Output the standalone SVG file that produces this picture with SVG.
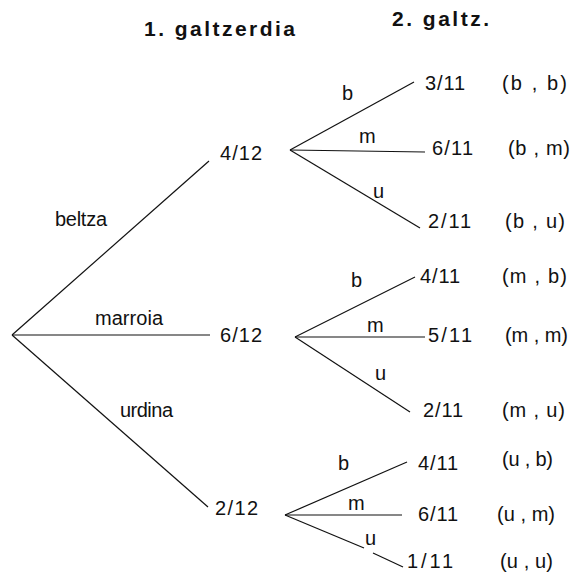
<svg xmlns="http://www.w3.org/2000/svg" width="571" height="572" viewBox="0 0 571 572">
  <style>
    .title { font-family: "Liberation Sans", Arial, sans-serif; font-weight: bold; font-size: 21px; fill: #111; }
    .t { font-family: "Liberation Sans", Arial, sans-serif; font-size: 20px; fill: #111; }
    .edge { stroke: #111; stroke-width: 1.2; fill: none; }
  </style>
  <rect width="571" height="572" fill="#fff"/>

  <!-- column headers -->
  <text class="title" x="144" y="36" textLength="151" lengthAdjust="spacing">1. galtzerdia</text>
  <text class="title" x="392" y="26" textLength="97" lengthAdjust="spacing">2. galtz.</text>

  <!-- connectors -->
  <g id="connectors">
    <line class="edge" x1="12" y1="335" x2="209" y2="161"/>
    <line class="edge" x1="12" y1="335" x2="210" y2="335"/>
    <line class="edge" x1="12" y1="335" x2="208" y2="507"/>

    <line class="edge" x1="290" y1="150" x2="414" y2="82"/>
    <line class="edge" x1="290" y1="150" x2="425" y2="152"/>
    <line class="edge" x1="290" y1="150" x2="420" y2="228"/>

    <line class="edge" x1="295" y1="337" x2="415" y2="277"/>
    <line class="edge" x1="295" y1="337" x2="425" y2="337"/>
    <line class="edge" x1="295" y1="337" x2="410" y2="412"/>

    <line class="edge" x1="285" y1="515" x2="407" y2="462"/>
    <line class="edge" x1="285" y1="515" x2="402" y2="515"/>
    <line class="edge" x1="285" y1="515" x2="364" y2="548"/>
    <line class="edge" x1="373" y1="553" x2="403" y2="567"/>
  </g>

  <!-- branch labels -->
  <g id="branch-labels">
    <text class="t" x="55" y="226" textLength="52" lengthAdjust="spacing">beltza</text>
    <text class="t" x="95" y="325" textLength="68" lengthAdjust="spacing">marroia</text>
    <text class="t" x="120" y="417" textLength="53" lengthAdjust="spacing">urdina</text>

    <text class="t" x="342" y="100">b</text>
    <text class="t" x="359" y="143">m</text>
    <text class="t" x="373" y="198">u</text>

    <text class="t" x="351" y="287">b</text>
    <text class="t" x="367" y="332">m</text>
    <text class="t" x="375" y="380">u</text>

    <text class="t" x="338" y="470">b</text>
    <text class="t" x="348" y="510">m</text>
    <text class="t" x="365" y="545">u</text>
  </g>

  <!-- first draw -->
  <g id="n-4-12"><text class="t" x="220" y="160" textLength="42" lengthAdjust="spacing">4/12</text></g>
  <g id="n-6-12"><text class="t" x="220" y="342" textLength="42" lengthAdjust="spacing">6/12</text></g>
  <g id="n-2-12"><text class="t" x="215" y="515" textLength="43" lengthAdjust="spacing">2/12</text></g>

  <!-- second draw -->
  <g id="n-bb"><text class="t" x="425" y="90" textLength="40" lengthAdjust="spacing">3/11</text>
    <text class="t" x="502" y="90" textLength="65" lengthAdjust="spacing">(b , b)</text></g>
  <g id="n-bm"><text class="t" x="432" y="155" textLength="41" lengthAdjust="spacing">6/11</text>
    <text class="t" x="508" y="155" textLength="62" lengthAdjust="spacing">(b , m)</text></g>
  <g id="n-bu"><text class="t" x="428" y="228" textLength="43" lengthAdjust="spacing">2/11</text>
    <text class="t" x="505" y="228" textLength="60" lengthAdjust="spacing">(b , u)</text></g>

  <g id="n-mb"><text class="t" x="420" y="283" textLength="40" lengthAdjust="spacing">4/11</text>
    <text class="t" x="502" y="283" textLength="65" lengthAdjust="spacing">(m , b)</text></g>
  <g id="n-mm"><text class="t" x="428" y="342" textLength="44" lengthAdjust="spacing">5/11</text>
    <text class="t" x="505" y="342" textLength="63" lengthAdjust="spacing">(m , m)</text></g>
  <g id="n-mu"><text class="t" x="423" y="417" textLength="40" lengthAdjust="spacing">2/11</text>
    <text class="t" x="502" y="417" textLength="63" lengthAdjust="spacing">(m , u)</text></g>

  <g id="n-ub"><text class="t" x="418" y="470" textLength="40" lengthAdjust="spacing">4/11</text>
    <text class="t" x="502" y="466" textLength="51" lengthAdjust="spacing">(u , b)</text></g>
  <g id="n-um"><text class="t" x="418" y="521" textLength="40" lengthAdjust="spacing">6/11</text>
    <text class="t" x="497" y="521" textLength="58" lengthAdjust="spacing">(u , m)</text></g>
  <g id="n-uu"><text class="t" x="407" y="568" textLength="46" lengthAdjust="spacing">1/11</text>
    <text class="t" x="500" y="568" textLength="53" lengthAdjust="spacing">(u , u)</text></g>
</svg>
